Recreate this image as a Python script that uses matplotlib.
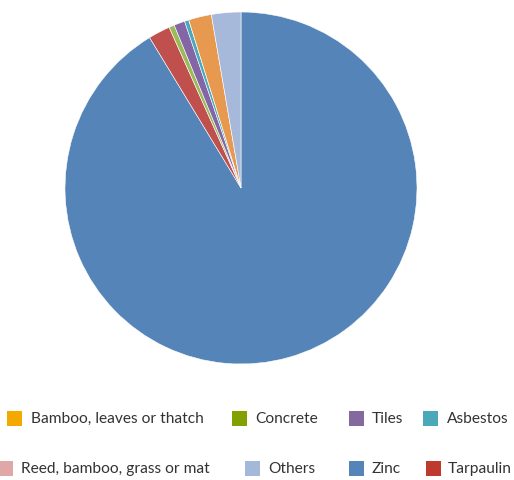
import matplotlib
matplotlib.use("Agg")
import matplotlib.pyplot as plt
from matplotlib.patches import Rectangle

# Pie slices, clockwise from 12 o'clock
pie_labels = ["Zinc", "Tarpaulin", "Concrete", "Tiles", "Asbestos",
              "Reed, bamboo, grass or mat", "Bamboo, leaves or thatch", "Others"]
pie_values = [91.4, 2.0, 0.5, 1.0, 0.4, 0.0, 2.1, 2.7]
pie_colors = ["#5585B8", "#C0504D", "#9BBB59", "#8466A6", "#4BA9BC",
              "#E0A7A7", "#E6994F", "#A6B9DA"]

# Legend entries (two rows)
legend_row1 = ["Bamboo, leaves or thatch", "Concrete", "Tiles", "Asbestos"]
legend_row1_colors = ["#F5A800", "#82A000", "#84699F", "#4AA8B8"]
legend_row2 = ["Reed, bamboo, grass or mat", "Others", "Zinc", "Tarpaulin"]
legend_row2_colors = ["#E0A7A7", "#A4B9DA", "#5585B8", "#C0392E"]

W, H = 514, 480
fig = plt.figure(figsize=(W / 100, H / 100), dpi=100)
plt.rcParams['font.family'] = ['Lato', 'DejaVu Sans']

cx, cy, r = 241, 188, 176
ax = fig.add_axes([(cx - r) / W, (H - cy - r) / H, 2 * r / W, 2 * r / H])
ax.pie(pie_values, colors=pie_colors, startangle=90, counterclock=False,
       radius=1, wedgeprops=dict(edgecolor="white", linewidth=0.4))
ax.set_xlim(-1, 1)
ax.set_ylim(-1, 1)
ax.set_aspect("equal")
ax.axis("off")

def add_item(x_sq, x_txt, y_c, color, label):
    s = 15
    fig.add_artist(Rectangle((x_sq / W, (H - y_c - s / 2) / H), s / W, s / H,
                             transform=fig.transFigure, facecolor=color,
                             edgecolor="none"))
    fig.text(x_txt / W, (H - y_c - 1) / H, label, fontsize=11.2, color="#333333",
             va="center", ha="left")

row1_sq = [7, 232, 349, 423]
row1_tx = [31, 255, 372, 447]
row2_sq = [-2, 245, 349, 426]
row2_tx = [21, 268, 372, 448]

for xs, xt, c, lab in zip(row1_sq, row1_tx, legend_row1_colors, legend_row1):
    add_item(xs, xt, 418, c, lab)
for xs, xt, c, lab in zip(row2_sq, row2_tx, legend_row2_colors, legend_row2):
    add_item(xs, xt, 468, c, lab)

fig.savefig("out.png", dpi=100)
